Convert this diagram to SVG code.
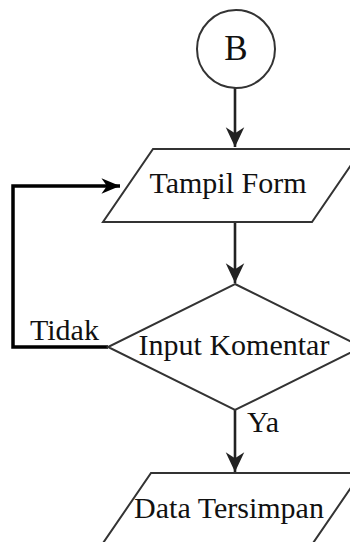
<svg xmlns="http://www.w3.org/2000/svg" width="350" height="542" viewBox="0 0 350 542">
  <style>
    .shape { fill: #ffffff; stroke: #333333; stroke-width: 2; stroke-linejoin: miter; }
    .label { font-family: "Liberation Serif", "Times New Roman", serif; font-size: 30px; fill: #111111; }
    .mid { text-anchor: middle; }
    .flow { fill: none; stroke: #222222; stroke-width: 2.6; }
    .loop { fill: none; stroke: #000000; stroke-width: 3.5; }
  </style>
  <defs>
    <marker id="arrow" markerUnits="userSpaceOnUse" markerWidth="24" markerHeight="24" viewBox="-20 -10 22 20" refX="0" refY="0" orient="auto">
      <path d="M0,0 L-18,-8.5 L-12.5,0 L-18,8.5 Z" fill="#222222"/>
    </marker>
    <marker id="arrowLoop" markerUnits="userSpaceOnUse" markerWidth="24" markerHeight="24" viewBox="-20 -10 22 20" refX="0" refY="0" orient="auto">
      <path d="M0,0 L-17,-7 L-12,0 L-17,7 Z" fill="#000000"/>
    </marker>
  </defs>

  <rect width="350" height="542" fill="#ffffff"/>

  <!-- connectors -->
  <g id="connectors">
    <line class="flow" x1="235" y1="88" x2="235" y2="147" marker-end="url(#arrow)"/>
    <line class="flow" x1="235" y1="222" x2="235" y2="283" marker-end="url(#arrow)"/>
    <line class="flow" x1="235" y1="410" x2="235" y2="472" marker-end="url(#arrow)"/>
    <polyline class="loop" points="108,347 13,347 13,186 120,186" marker-end="url(#arrowLoop)"/>
    <text class="label" x="30" y="340" font-size="29">Tidak</text>
    <text class="label" x="247" y="432" font-size="29">Ya</text>
  </g>

  <!-- connector B -->
  <g id="node-b">
    <circle class="shape" cx="236" cy="49" r="39"/>
    <text class="label mid" x="236" y="60" style="font-size:35px">B</text>
  </g>

  <!-- Tampil Form -->
  <g id="node-tampil-form">
    <polygon class="shape" points="153,149 362,149 312,222 103,222"/>
    <text class="label mid" x="228" y="193">Tampil Form</text>
  </g>

  <!-- Input Komentar -->
  <g id="node-input-komentar">
    <polygon class="shape" points="235,284 362,347 235,410 108,347"/>
    <text class="label mid" x="234" y="355">Input Komentar</text>
  </g>

  <!-- Data Tersimpan -->
  <g id="node-data-tersimpan">
    <polygon class="shape" points="151,473 361,473 311,546 101,546"/>
    <text class="label mid" x="229" y="518">Data Tersimpan</text>
  </g>
</svg>
